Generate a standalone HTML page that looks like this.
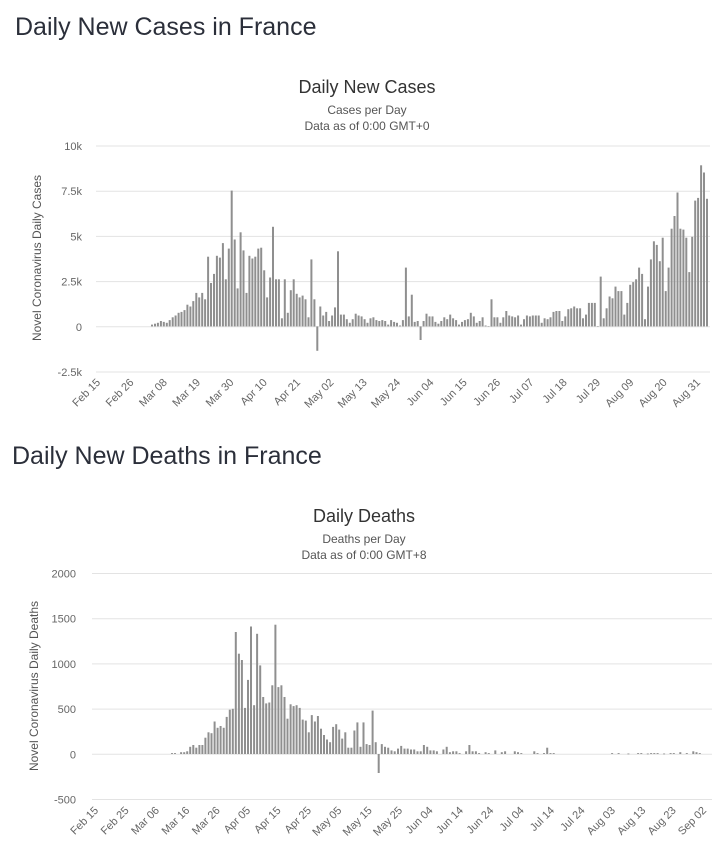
<!DOCTYPE html>
<html><head><meta charset="utf-8"><style>
body{margin:0;background:#fff;width:723px;height:865px;overflow:hidden}
svg{display:block;font-family:"Liberation Sans",sans-serif}
</style></head><body>
<svg id="s" width="723" height="865" xmlns="http://www.w3.org/2000/svg">
<text x="15" y="35" font-size="25" fill="#2b2f3a">Daily New Cases in France</text>
<text x="367" y="93" font-size="18" fill="#333" text-anchor="middle">Daily New Cases</text>
<text x="367" y="114" font-size="12" fill="#555" text-anchor="middle">Cases per Day</text>
<text x="367" y="130" font-size="12" fill="#555" text-anchor="middle">Data as of 0:00 GMT+0</text>
<text x="12" y="464" font-size="25" fill="#2b2f3a">Daily New Deaths in France</text>
<text x="364" y="522" font-size="18" fill="#333" text-anchor="middle">Daily Deaths</text>
<text x="364" y="543" font-size="12" fill="#555" text-anchor="middle">Deaths per Day</text>
<text x="364" y="559" font-size="12" fill="#555" text-anchor="middle">Data as of 0:00 GMT+8</text>
<text transform="translate(41,258) rotate(-90)" font-size="12" fill="#555" text-anchor="middle">Novel Coronavirus Daily Cases</text>
<text transform="translate(38,686) rotate(-90)" font-size="12" fill="#555" text-anchor="middle">Novel Coronavirus Daily Deaths</text>
<g id="g"></g>
</svg>
<script>
var g=document.getElementById('g'),h='';
function line(x1,y,x2){h+='<line x1="'+x1+'" x2="'+x2+'" y1="'+y+'" y2="'+y+'" stroke="#e3e3e3" stroke-width="1"/>';}
function txt(x,y,t,a){h+='<text x="'+x+'" y="'+y+'" font-size="11" fill="#666" text-anchor="'+(a||'end')+'">'+t+'</text>';}
function bar(x,v,z,k,mh){var hh=Math.abs(v)*k,y=v>=0?z-hh:z;h+='<rect x="'+(x-1).toFixed(1)+'" y="'+y.toFixed(1)+'" width="2" height="'+Math.max(hh,mh).toFixed(1)+'" fill="#8f8f8f"/>';}
// chart 1
var yl=['10k','7.5k','5k','2.5k','0','-2.5k'];
for(var i=0;i<6;i++){var y=146+i*45.2;line(96,y,710);txt(82,y+4,yl[i]);}
var x0=98,dx=3.0,z=326.4,k=18.1;
var c1=[0.1,0.15,0.2,0.3,0.25,0.2,0.35,0.5,0.6,0.75,0.8,0.9,1.2,1.1,1.4,1.85,1.6,1.85,1.5,3.85,2.4,2.9,3.9,3.8,4.6,2.6,4.3,7.5,4.8,2.1,5.2,4.2,1.85,3.9,3.75,3.85,4.3,4.35,3.1,1.6,2.7,5.5,2.6,2.6,0.45,2.6,0.75,2.0,2.6,1.8,1.6,1.7,1.5,0.5,3.7,1.5,-1.35,1.1,0.6,0.8,0.3,0.6,1.05,4.15,0.65,0.65,0.4,0.2,0.4,0.7,
0.6,0.55,0.4,0.2,0.45,0.5,0.35,0.3,0.35,0.3,0.1,0.35,0.25,0.2,0.05,0.35,
3.25,0.55,1.75,0.25,0.3,-0.75,0.3,0.7,0.55,0.55,0.25,0.15,0.3,0.5,0.4,0.65,0.45,0.35,0.1,0.25,0.35,0.4,0.75,0.55,0.2,0.3,0.5,0.05,0,1.5,0.5,0.5,0.2,0.5,0.85,0.6,0.55,0.5,0.6,0.1,0.4,0.6,0.55,0.6,0.6,0.6,0.2,0.45,0.4,0.5,0.8,0.85,0.85,0.3,0.55,0.95,1.0,1.1,1.0,1.0,0.45,0.65,1.3,1.3,1.3,0,2.75,0.45,1.0,1.65,1.55,2.2,1.95,1.95,0.65,1.3,2.3,2.45,2.6,3.25,2.9,0.4,2.2,3.7,4.7,4.5,3.6,4.9,1.95,3.25,5.4,6.1,7.4,5.4,5.35,4.9,3.0,4.95,6.95,7.1,8.9,8.5,7.05];
var bdx=(707-(x0+18*dx))/(c1.length-1);
for(var i=0;i<c1.length;i++){bar(x0+18*dx+i*bdx,c1[i],z,k,0.5);}
var l1=['Feb 15','Feb 26','Mar 08','Mar 19','Mar 30','Apr 10','Apr 21','May 02','May 13','May 24','Jun 04','Jun 15','Jun 26','Jul 07','Jul 18','Jul 29','Aug 09','Aug 20','Aug 31'];
for(var i=0;i<l1.length;i++){var x=x0+i*11*3.03+3;h+='<text transform="translate('+x+',383) rotate(-45)" font-size="11" fill="#666" text-anchor="end">'+l1[i]+'</text>';}
// chart 2
var y2=['2000','1500','1000','500','0','-500'];
for(var i=0;i<6;i++){var y=573.5+i*45.2;line(92,y,712);txt(76,y+4,y2[i]);}
var X0=96,DX=3.04,Z=754,K=0.0904;
var d=[0,10,10,0,20,20,30,80,100,70,100,100,180,240,230,360,290,310,290,410,490,500,1350,1110,1040,510,820,1410,540,1330,980,630,560,570,760,1430,740,760,630,390,550,530,540,510,380,370,240,430,360,420,280,210,160,130,300,330,270,170,240,70,70,260,350,80,350,110,100,480,130,-210];
for(var i=0;i<d.length;i++){if(d[i])bar(X0+(i+24)*DX,d[i],Z,K,0.8);}
var t=[110,80,70,40,30,60,90,60,60,50,50,30,30,100,80,40,40,30,0,50,80,20,30,30,10,0,30,100,30,30,10,0,20,10,0,40,0,20,30,0,0,30,20,10,0,0,0,30,10,0,10,70,10,10,0,0,0,0,0,0,0,0,0,0,0,0,0,0,0,0,0,10,0,10,0,0,5,0,0,10,10,0,5,10,10,10,0,5,0,10,10,0,20,0,10,0,30,20,10,0];
var ts=X0+94*DX,tdx=(703-ts)/(t.length-1);
for(var i=0;i<t.length;i++){if(t[i])bar(ts+i*tdx,t[i],Z,K,0.8);}
var l2=['Feb 15','Feb 25','Mar 06','Mar 16','Mar 26','Apr 05','Apr 15','Apr 25','May 05','May 15','May 25','Jun 04','Jun 14','Jun 24','Jul 04','Jul 14','Jul 24','Aug 03','Aug 13','Aug 23','Sep 02'];
for(var i=0;i<l2.length;i++){var x=X0+i*10*DX+3;h+='<text transform="translate('+x+',811) rotate(-45)" font-size="11" fill="#666" text-anchor="end">'+l2[i]+'</text>';}
g.innerHTML=h;
</script>
</body></html>
